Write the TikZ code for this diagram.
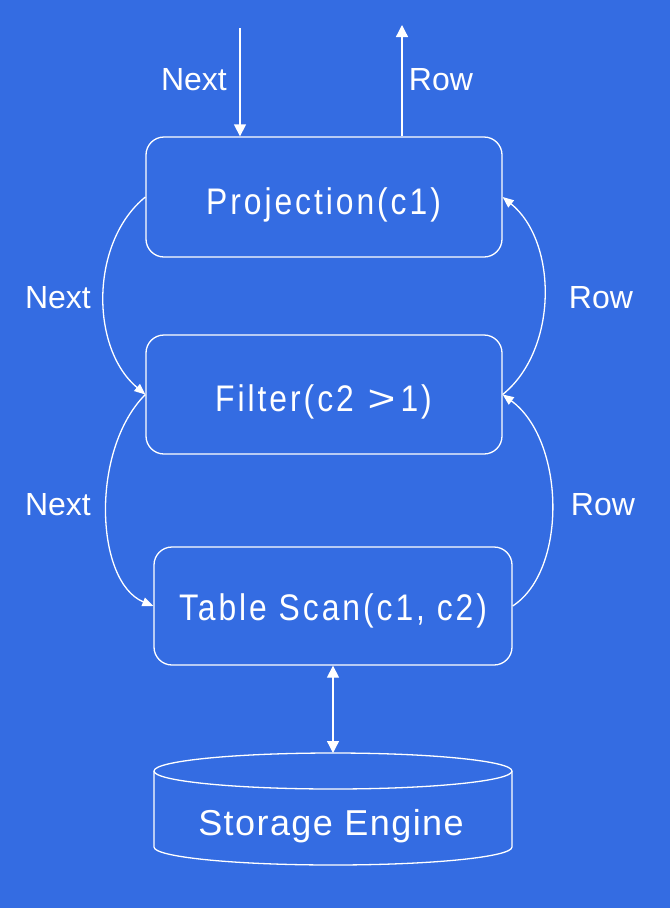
\documentclass[tikz,border=0pt]{standalone}
\usepackage{fontspec}
\usepackage{graphicx}
\setmainfont{Liberation Sans}
\newfontfamily\boxfont[FakeStretch=0.86,LetterSpace=8]{Liberation Sans}
\newfontfamily\dbfont[LetterSpace=4]{Liberation Sans}
\usetikzlibrary{arrows.meta}
\definecolor{bgblue}{RGB}{52,108,226}
\tikzset{
  opbox/.style={draw=white, line width=1.3pt, rounded corners=18pt, text=white,
    font=\boxfont\fontsize{37}{42}\selectfont, inner sep=0pt,
    text height=26.5pt, text depth=0pt},
  lbl/.style={text=white, font=\fontsize{32}{36}\selectfont, inner sep=0pt,
    text height=23pt, text depth=0pt},
  wire/.style={draw=white, line width=1.3pt},
  bigtip/.style={-{Triangle[width=12pt,length=12pt]}},
  smalltip/.style={-{Triangle[width=9pt,length=11pt]}},
}
\begin{document}
\begin{tikzpicture}[x=1pt,y=-1pt]
  \fill[bgblue] (0,0) rectangle (670,908);
  \useasboundingbox (0,0) rectangle (670,908);

  % operator boxes
  \node[opbox, minimum width=356pt, minimum height=120pt] (proj) at (324,197) {};
  \node[opbox, minimum width=356pt, minimum height=119pt] (filt) at (324,394.5) {};
  \node[opbox, minimum width=358pt, minimum height=118pt] (scan) at (333,606) {};
  \node[opbox, draw=none] (projtxt) at (323.5,201) {Projection(c1)};
  \node[opbox, draw=none] (filttxt) at (323.5,398) {Filter(c2 \hspace{2pt}\scalebox{1.5}[1]{>}\hspace{5pt}1)};
  \node[opbox, draw=none] (scantxt) at (333,607) {Table Scan(c1, c2)};

  % storage cylinder
  \draw[wire] (154,771) arc[start angle=180, end angle=-180, x radius=179, y radius=18];
  \draw[wire] (154,771) -- (154,847) arc[start angle=180, end angle=0, x radius=179, y radius=18] -- (512,771);
  \node[text=white, font=\dbfont\fontsize{36}{40}\selectfont, inner sep=0pt,
    text height=26pt, text depth=0pt] (store) at (331,822) {Storage Engine};
  \coordinate (storetop) at (333,753);

  % request / result arrows at the top
  \coordinate (nextin) at (240,28);
  \coordinate (rowout) at (402,25);
  \draw[wire, bigtip] (nextin) -- (proj.north -| nextin);
  \draw[wire, bigtip] (proj.north -| rowout) -- (rowout);
  \node[lbl] (nexttop) at (194,79) {Next};
  \node[lbl] (rowtop) at (441,79) {Row};

  % Next calls going down on the left
  \draw[wire, smalltip] (proj.west) .. controls (90,242) and (90,348) .. (filt.west);
  \draw[wire, smalltip] (filt.west) .. controls (90,450) and (95,582) .. (scan.west);
  \node[lbl] (nextl1) at (58,297) {Next};
  \node[lbl] (nextl2) at (58,504) {Next};

  % Rows returned on the right
  \draw[wire, smalltip] (filt.east) .. controls (558,350) and (558,242) .. (proj.east);
  \draw[wire, smalltip] (scan.east) .. controls (568,570) and (565,440) .. (filt.east);
  \node[lbl] (rowr1) at (601,297) {Row};
  \node[lbl] (rowr2) at (603,504) {Row};

  % scan <-> storage
  \draw[wire, {Triangle[width=12pt,length=12pt]}-{Triangle[width=12pt,length=12pt]}] (scan.south) -- (storetop);
\end{tikzpicture}
\end{document}
